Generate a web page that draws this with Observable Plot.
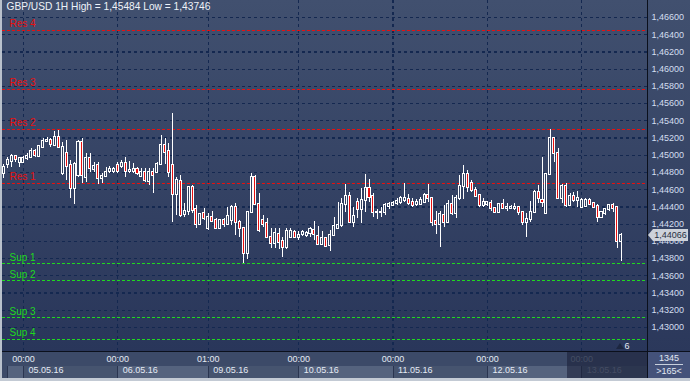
<!DOCTYPE html>
<html><head><meta charset="utf-8">
<script src="https://cdn.jsdelivr.net/npm/d3@7"></script>
<script src="https://cdn.jsdelivr.net/npm/@observablehq/plot@0.6"></script>
<style>
body{margin:0;background:#c3cad4;}
#wrap{position:relative;width:690px;height:381px;overflow:hidden;font-family:"Liberation Sans",Arial,sans-serif;background:#c3cad4;}
.a{position:absolute;}
#wrap svg{position:absolute;left:0;top:0;}
</style></head><body>
<div id="wrap">
  <div class="a" style="left:2px;top:0;width:645px;height:351px;background:linear-gradient(#41506f,#29365a);"></div>
  <div class="a" style="left:648px;top:0;width:42px;height:352px;background:linear-gradient(#41506f,#2b385b);"></div>
  <div class="a" style="left:2px;top:352px;width:645px;height:26px;background:#3c4a68;"></div>
  <div id="boxes"></div>
  <div class="a" style="left:648px;top:352px;width:42px;height:26px;background:#44527a;"></div>
  <div class="a" style="left:647px;top:0;width:1px;height:381px;background:#0b101c;"></div>
  <div class="a" style="left:0;top:351px;width:690px;height:1px;background:#0b101c;"></div>
  <div class="a" style="left:0;top:0;width:2px;height:381px;background:#b9c1cc;"></div>
</div>
<script>
// ---- data ----
const symbol = "GBP/USD", period = "1H", highLabel = "1,45484", lowLabel = "1,43746";
const open = [1.44784,1.44893,1.44931,1.44986,1.44912,1.44912,1.44958,1.44978,1.45044,1.44989,
1.45094,1.45160,1.45171,1.45113,1.45210,1.44784,1.45024,1.44881,1.44610,1.44765,
1.45144,1.44746,1.44958,1.44835,1.44881,1.44726,1.44753,1.44811,1.44815,1.44881,
1.44869,1.44908,1.44807,1.44811,1.44831,1.44757,1.44804,1.44695,1.44804,1.44804,
1.44893,1.45113,1.45044,1.44881,1.44540,1.44695,1.44308,1.44347,1.44622,1.44366,
1.44196,1.44327,1.44145,1.44281,1.44242,1.44153,1.44242,1.44196,1.44242,1.44389,
1.44223,1.44145,1.43855,1.44339,1.44746,1.44424,1.44242,1.44203,1.44049,1.43971,
1.44080,1.44002,1.43925,1.44049,1.44107,1.44041,1.44076,1.44068,1.44087,1.44126,
1.44056,1.43960,1.44029,1.43952,1.44068,1.44153,1.44184,1.44428,1.44521,1.44215,
1.44447,1.44370,1.44474,1.44610,1.44525,1.44331,1.44331,1.44339,1.44409,1.44416,
1.44436,1.44455,1.44474,1.44482,1.44455,1.44428,1.44428,1.44455,1.44533,1.44494,
1.44231,1.44196,1.44300,1.44215,1.44424,1.44320,1.44494,1.44637,1.44773,1.44668,
1.44591,1.44533,1.44416,1.44424,1.44440,1.44378,1.44331,1.44424,1.44378,1.44378,
1.44385,1.44393,1.44331,1.44215,1.44250,1.44331,1.44564,1.44474,1.44320,1.44776,
1.45191,1.45024,1.44502,1.44641,1.44416,1.44525,1.44474,1.44397,1.44405,1.44474,
1.44436,1.44405,1.44281,1.44320,1.44366,1.44416,1.44389,1.44002];
const high = [1.44889,1.44978,1.45005,1.44997,1.44978,1.44989,1.45017,1.45082,1.45067,1.45113,
1.45199,1.45202,1.45199,1.45276,1.45288,1.45152,1.45171,1.44939,1.44920,1.45171,
1.45191,1.45017,1.45017,1.44920,1.44920,1.44784,1.44862,1.44869,1.44862,1.44920,
1.44939,1.44978,1.44928,1.44900,1.44862,1.44842,1.44842,1.44842,1.44842,1.44920,
1.45230,1.45191,1.45133,1.45484,1.44746,1.44765,1.44436,1.44629,1.44649,1.44416,
1.44320,1.44378,1.44320,1.44347,1.44262,1.44254,1.44269,1.44397,1.44416,1.44436,
1.44242,1.44153,1.44347,1.44784,1.44765,1.44552,1.44300,1.44262,1.44145,1.44145,
1.44145,1.44049,1.44153,1.44145,1.44126,1.44114,1.44126,1.44114,1.44165,1.44231,
1.44172,1.44114,1.44049,1.44126,1.44281,1.44455,1.44494,1.44660,1.44564,1.44397,
1.44494,1.44618,1.44776,1.44718,1.44552,1.44366,1.44397,1.44436,1.44455,1.44463,
1.44494,1.44525,1.44668,1.44540,1.44494,1.44482,1.44513,1.44552,1.44656,1.44513,
1.44347,1.44347,1.44416,1.44474,1.44533,1.44533,1.44765,1.44881,1.44823,1.44707,
1.44629,1.44540,1.44494,1.44463,1.44474,1.44397,1.44436,1.44486,1.44436,1.44416,
1.44436,1.44397,1.44347,1.44320,1.44463,1.44591,1.44649,1.44970,1.44784,1.45299,
1.45210,1.45075,1.44656,1.44668,1.44552,1.44564,1.44579,1.44502,1.44502,1.44502,
1.44455,1.44428,1.44347,1.44385,1.44424,1.44436,1.44405,1.44087];
const low = [1.44726,1.44842,1.44862,1.44920,1.44862,1.44900,1.44939,1.44966,1.44974,1.44978,
1.45075,1.45144,1.45094,1.45106,1.45082,1.44765,1.44707,1.44494,1.44428,1.44746,
1.44676,1.44687,1.44804,1.44804,1.44660,1.44668,1.44746,1.44784,1.44792,1.44792,
1.44842,1.44746,1.44784,1.44784,1.44765,1.44746,1.44687,1.44649,1.44552,1.44784,
1.44881,1.44889,1.44746,1.44215,1.44300,1.44281,1.44281,1.44300,1.44320,1.44145,
1.44184,1.44242,1.44126,1.44223,1.44138,1.44138,1.44165,1.44184,1.44184,1.44068,
1.44049,1.43746,1.43789,1.44320,1.44416,1.44107,1.44165,1.44037,1.43913,1.43913,
1.43905,1.43816,1.43905,1.44029,1.44029,1.44010,1.44060,1.44049,1.44049,1.44010,
1.43952,1.43952,1.43932,1.43886,1.44060,1.44138,1.44165,1.44339,1.44203,1.44165,
1.44262,1.44203,1.44339,1.44447,1.44281,1.44250,1.44281,1.44300,1.44370,1.44405,
1.44416,1.44424,1.44455,1.44416,1.44397,1.44405,1.44416,1.44436,1.44455,1.44176,
1.44076,1.43932,1.44165,1.44203,1.44300,1.44262,1.44474,1.44486,1.44564,1.44564,
1.44513,1.44397,1.44397,1.44405,1.44347,1.44327,1.44320,1.44370,1.44347,1.44366,
1.44358,1.44300,1.44184,1.44049,1.44223,1.44320,1.44436,1.44397,1.44312,1.44765,
1.44920,1.44482,1.44436,1.44397,1.44409,1.44455,1.44397,1.44385,1.44397,1.44416,
1.44385,1.44223,1.44269,1.44300,1.44347,1.44331,1.43921,1.43770];
const close = [1.44862,1.44939,1.44986,1.44947,1.44958,1.44966,1.44989,1.45044,1.44997,1.45106,
1.45160,1.45175,1.45121,1.45202,1.45094,1.45094,1.44873,1.44610,1.44893,1.45152,
1.44765,1.44958,1.44842,1.44869,1.44726,1.44753,1.44804,1.44831,1.44835,1.44811,
1.44908,1.44811,1.44823,1.44831,1.44792,1.44804,1.44707,1.44804,1.44765,1.44893,
1.45113,1.45036,1.44804,1.44540,1.44707,1.44300,1.44347,1.44622,1.44358,1.44196,
1.44308,1.44262,1.44281,1.44234,1.44145,1.44242,1.44192,1.44289,1.44393,1.44215,
1.44145,1.43855,1.44339,1.44746,1.44424,1.44126,1.44196,1.44049,1.43971,1.44087,
1.43983,1.43925,1.44114,1.44114,1.44041,1.44068,1.44107,1.44095,1.44134,1.44076,
1.43960,1.44029,1.43944,1.44068,1.44176,1.44184,1.44428,1.44521,1.44215,1.44289,
1.44370,1.44474,1.44610,1.44513,1.44331,1.44339,1.44339,1.44416,1.44428,1.44444,
1.44463,1.44494,1.44494,1.44444,1.44416,1.44455,1.44474,1.44533,1.44494,1.44223,
1.44192,1.44308,1.44223,1.44424,1.44320,1.44494,1.44637,1.44773,1.44629,1.44591,
1.44525,1.44416,1.44455,1.44447,1.44378,1.44331,1.44428,1.44385,1.44397,1.44397,
1.44393,1.44331,1.44215,1.44250,1.44331,1.44564,1.44494,1.44455,1.44776,1.45191,
1.45017,1.44502,1.44641,1.44416,1.44525,1.44474,1.44494,1.44474,1.44474,1.44428,
1.44397,1.44281,1.44331,1.44370,1.44416,1.44385,1.44002,1.44066];
const priceTicks = [1.466,1.464,1.462,1.460,1.458,1.456,1.454,1.452,1.450,1.448,1.446,1.444,1.442,1.440,1.438,1.436,1.434,1.432,1.430];
const priceLabels = ["1,46600","1,46400","1,46200","1,46000","1,45800","1,45600","1,45400","1,45200","1,45000","1,44800","1,44600","1,44400","1,44200","1,44000","1,43800","1,43600","1,43400","1,43200","1,43000"];
const dayIndex = [5, 29, 52, 75, 99, 123, 147];
const timeLabels = ["00:00","00:00","01:00","00:00","00:00","00:00","00:00"];
const dateLabels = ["05.05.16","06.05.16","09.05.16","10.05.16","11.05.16","12.05.16","13.05.16"];
const resNames = ["Res 4","Res 3","Res 2","Res 1"];
const resLevels = [1.46450, 1.45764, 1.45299, 1.44672];
const supNames = ["Sup 1","Sup 2","Sup 3","Sup 4"];
const supLevels = [1.43740, 1.43542, 1.43113, 1.42864];
const lastPriceLabel = "1,44066";
const barInfo = ["1345", ">165<"];
const shiftLabel = "6";

// ---- chart ----
const RED = "#e81010", GREEN = "#20d820", GRID = "#142850", BG = "#33415f";
const candles = open.map((o, i) => ({i, o, h: high[i], l: low[i], c: close[i]}));
const title = `${symbol} ${period} High = ${highLabel} Low = ${lowLabel}`;
const crisp = {shapeRendering: "crispEdges"};

const plot = Plot.plot({
  width: 690, height: 381,
  marginLeft: 2, marginRight: 43, marginTop: 0, marginBottom: 30,
  style: {background: "transparent", color: "#d3def0", fontFamily: "'Liberation Sans', Arial, sans-serif", fontSize: "9px"},
  x: {domain: [-0.33, 163.7], axis: null},
  y: {domain: [1.42721, 1.46797], axis: "right", ticks: priceTicks,
      tickFormat: d => priceLabels[priceTicks.indexOf(d)], tickSize: 0, tickPadding: 4, label: null},
  marks: [
    Plot.ruleY(priceTicks, {y: d => d, stroke: GRID, strokeWidth: 1.2, strokeDasharray: "3,3", ...crisp}),
    Plot.ruleX(dayIndex, {x: d => d, stroke: GRID, strokeWidth: 1.2, strokeDasharray: "3,3", ...crisp}),
    Plot.ruleY(resLevels, {y: d => d, stroke: RED, strokeWidth: 1.2, strokeDasharray: "3,2", ...crisp}),
    Plot.ruleY(supLevels, {y: d => d, stroke: GREEN, strokeWidth: 1.2, strokeDasharray: "3,2", ...crisp}),
    Plot.text(resLevels, {y: d => d, text: (d, k) => resNames[k], frameAnchor: "left", textAnchor: "start",
      lineAnchor: "bottom", dx: 7, dy: -3, fill: RED, fontSize: 10}),
    Plot.text(supLevels, {y: d => d, text: (d, k) => supNames[k], frameAnchor: "left", textAnchor: "start",
      lineAnchor: "bottom", dx: 7, dy: -3, fill: GREEN, fontSize: 10}),
    Plot.ruleX(candles, {x: "i", y1: "h", y2: d => Math.max(d.o, d.c), stroke: "white", strokeWidth: 1, ...crisp}),
    Plot.ruleX(candles, {x: "i", y1: d => Math.min(d.o, d.c), y2: "l", stroke: "white", strokeWidth: 1, ...crisp}),
    Plot.rect(candles, {x1: d => d.i - 0.26, x2: d => d.i + 0.26, y1: "o", y2: "c",
      insetTop: -0.5, insetBottom: -0.5,
      fill: d => d.c < d.o ? RED : BG, stroke: "white", strokeWidth: 1, ...crisp}),
    Plot.text([title], {text: d => d, frameAnchor: "top-left", dx: 4, dy: 2, lineAnchor: "top",
      textAnchor: "start", fill: "#eef2f8", fontSize: 10.2}),
    Plot.text(dayIndex, {x: d => d, text: (d, k) => timeLabels[k], frameAnchor: "bottom", dy: 10,
      textAnchor: "middle", fill: (d, k) => k === 6 ? "#7a869c" : "#e4eaf4"}),
    Plot.text(dayIndex, {x: d => d, text: (d, k) => dateLabels[k], frameAnchor: "bottom", dy: 21, dx: 5,
      textAnchor: "start", fill: (d, k) => k === 6 ? "#7a869c" : "#e4eaf4"}),
    Plot.text([shiftLabel], {text: d => d, frameAnchor: "bottom-right", dx: -18, dy: -3, lineAnchor: "bottom",
      fill: "#e3e8f0", fontSize: 9})
  ]
});

const wrap = document.getElementById("wrap");
const xs = plot.scale("x"), ys = plot.scale("y");
// date boxes in the bottom panel
const boxes = document.getElementById("boxes");
const edges = [7, ...dayIndex.map(d => xs.apply(d)), 647];
for (let k = 0; k < edges.length - 1; k++) {
  const b = document.createElement("div");
  b.className = "a";
  const light = (k % 2 === 0);
  b.style.cssText = `left:${edges[k]}px;top:366px;width:${edges[k+1]-edges[k]}px;height:12px;background:${light ? "#55637e" : "#46546f"};border-left:1px solid #2a3550;`;
  boxes.appendChild(b);
}
wrap.appendChild(plot);
// dim overlay of the shifted area
const ov = document.createElement("div");
ov.className = "a";
ov.style.cssText = "left:567px;top:352px;width:80px;height:26px;background:rgba(24,30,52,0.55);";
wrap.appendChild(ov);
// small marker near shift label
const tri = document.createElement("div");
tri.className = "a";
tri.style.cssText = "left:616px;top:343px;width:0;height:0;border-left:4px solid transparent;border-right:4px solid transparent;border-bottom:6px solid #1c2640;";
wrap.appendChild(tri);
// bar info panel
const info = document.createElement("div");
info.className = "a";
info.style.cssText = "left:648px;top:353px;width:42px;text-align:center;font-size:9px;color:#e2e8f2;line-height:11px;";
info.innerHTML = `<div style="border-bottom:1px solid #c8d0dc;margin:0 7px 1px 7px;">${barInfo[0]}</div><div>${barInfo[1]}</div>`;
wrap.appendChild(info);
// current price marker
const py = ys.apply(close[close.length - 1]);
const mk = document.createElement("div");
mk.className = "a";
mk.style.cssText = `left:653px;top:${py - 6}px;width:35px;height:12px;background:#cdd2da;color:#27303f;font-size:9px;line-height:12px;text-align:center;`;
mk.textContent = lastPriceLabel;
wrap.appendChild(mk);
const ar = document.createElement("div");
ar.className = "a";
ar.style.cssText = `left:648px;top:${py - 6}px;width:0;height:0;border-top:6px solid transparent;border-bottom:6px solid transparent;border-right:5px solid #cdd2da;`;
wrap.appendChild(ar);
// bottom light border
const bb = document.createElement("div");
bb.className = "a";
bb.style.cssText = "left:0;top:378px;width:690px;height:3px;background:#c3cad4;";
wrap.appendChild(bb);
</script>
</body></html>
